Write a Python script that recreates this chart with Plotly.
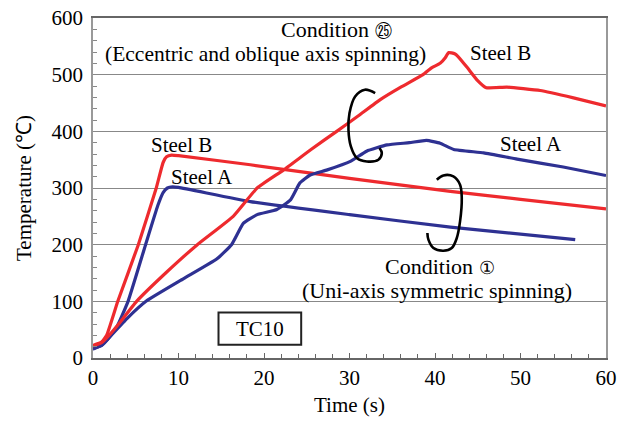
import plotly.graph_objects as go

# ---- data ----
# Condition 25 (eccentric and oblique axis spinning)
c25_b_t = [0, 1, 2, 3, 5.1, 8.5, 12.2, 16.4, 19.2, 22.3, 25.5, 28.5, 31, 33.6, 36, 38.6, 39.6, 40.6, 41.2, 41.6, 42.3, 42.7, 43.8, 44.9, 46, 48.4, 52.3, 56.2, 60]
c25_b_v = [21, 27, 42, 60, 100, 150, 200, 250, 300, 332, 368, 400, 427, 456, 478, 500, 512, 520, 530, 539, 537, 532, 512, 491, 477, 478, 472, 459, 445]
c25_a_t = [0, 1, 2, 4, 6.2, 10.6, 14.5, 16.2, 17.6, 19.2, 21.5, 23.1, 24.2, 25.4, 27.4, 30.1, 32, 34.4, 37, 39, 40.6, 42.2, 45.7, 49.6, 55, 60]
c25_a_v = [16, 22, 38, 70, 100, 140, 175, 200, 238, 253, 262, 279, 309, 323, 332, 347, 365, 376, 380, 384, 379, 368, 362, 351, 337, 322]
# Condition 1 (uni-axis symmetric spinning)
c1_b_t = [0, 1, 1.6, 2.9, 5.3, 7.4, 8.2, 8.6, 9.2, 10, 18.4, 30, 41.8, 50, 60]
c1_b_v = [22, 28, 40, 100, 200, 300, 345, 355, 358, 357, 341, 317, 294, 280, 263]
c1_a_t = [0, 1, 2, 2.8, 4.1, 6.15, 7.6, 8.2, 8.7, 9.3, 10, 18.4, 30, 41.8, 56.4]
c1_a_v = [16, 22, 38, 55, 100, 200, 270, 292, 300, 302, 301, 276, 253, 231, 209]

# bracket outlines (hand-drawn braces)
brace1_t = [33.0, 31.8, 30.66, 30.0, 29.88, 30.16, 30.86, 32.03, 33.38, 33.78, 33.5]
brace1_v = [467.6, 473.5, 461.6, 432.3, 402.9, 373.4, 352.9, 346.9, 349.9, 361.7, 370.6]
brace2_t = [40.21, 40.98, 42.15, 42.93, 43.13, 42.93, 42.55, 41.96, 40.98, 39.81, 39.23, 39.11]
brace2_v = [314.6, 322.2, 320.4, 305.8, 282.3, 241, 211.8, 194.1, 189.3, 194.1, 208.8, 220.6]

# text labels: (text, t, value, font size)
labels = [
    ("Condition <span style='font-size:17px'>㉕</span>", 28.5, 579, 22),
    ("(Eccentric and oblique axis spinning)", 20.2, 536, 21.5),
    ("Steel B", 47.7, 538, 21),
    ("Steel A", 51.2, 378, 21),
    ("Steel B", 10.3, 376, 21),
    ("Steel A", 12.7, 320, 21),
    ("Condition <span style='font-size:18px'>①</span>", 40.6, 162, 22),
    ("(Uni-axis symmetric spinning)", 40.2, 120, 22),
]
box_label = ("TC10", 19.5, 51.7)
box_t = [14.68, 24.35]
box_v = [23.5, 80.5]

RED = "#ee2a2e"
BLUE = "#2e3192"
FONT = "Liberation Serif"

fig = go.Figure()
for t, v, c in [(c1_a_t, c1_a_v, BLUE), (c1_b_t, c1_b_v, RED),
                (c25_a_t, c25_a_v, BLUE), (c25_b_t, c25_b_v, RED)]:
    fig.add_trace(go.Scatter(x=t, y=v, mode="lines",
                             line=dict(color=c, width=3.2, shape="spline", smoothing=0.4),
                             showlegend=False, hoverinfo="skip"))
for t, v in [(brace1_t, brace1_v), (brace2_t, brace2_v)]:
    fig.add_trace(go.Scatter(x=t, y=v, mode="lines",
                             line=dict(color="black", width=2.6, shape="spline", smoothing=1.0),
                             showlegend=False, hoverinfo="skip"))

for txt, t, v, fs in labels:
    fig.add_annotation(x=t, y=v, text=txt, showarrow=False,
                       font=dict(family=FONT, size=fs, color="black"))

fig.add_shape(type="rect", x0=box_t[0], x1=box_t[1], y0=box_v[0], y1=box_v[1],
              line=dict(color="#222", width=2), fillcolor="white", layer="above")
fig.add_annotation(x=box_label[1], y=box_label[2], text=box_label[0], showarrow=False,
                   font=dict(family=FONT, size=21, color="black"))

fig.update_layout(
    width=627, height=421,
    margin=dict(l=93, r=21, t=18, b=63),
    paper_bgcolor="white", plot_bgcolor="white",
    font=dict(family=FONT, size=21, color="black"),
)
fig.update_xaxes(
    range=[0, 60], dtick=10, tick0=0, showgrid=False, zeroline=False, automargin=False,
    showline=True, linecolor="#666", linewidth=1.5, mirror=True,
    ticks="inside", ticklen=5, tickcolor="#666",
    minor=dict(dtick=2, ticks="inside", ticklen=4, tickcolor="#666"),
    tickfont=dict(family=FONT, size=21, color="black"),
    title=dict(text="Time (s)", font=dict(family=FONT, size=21, color="black"), standoff=8),
)
fig.update_yaxes(
    range=[0, 600], dtick=100, tick0=0, showgrid=True, gridcolor="#888", gridwidth=1,
    zeroline=False, showline=True, linecolor="#999", linewidth=1.5, mirror=True, automargin=False,
    ticks="inside", ticklen=5, tickcolor="#888",
    minor=dict(dtick=20, ticks="inside", ticklen=4, tickcolor="#888", showgrid=False),
    tickfont=dict(family=FONT, size=21, color="black"),
    ticklabelstandoff=4,
    title=dict(text="Temperature (℃)", font=dict(family=FONT, size=21, color="black"), standoff=14),
)

fig.write_html("out.html")
